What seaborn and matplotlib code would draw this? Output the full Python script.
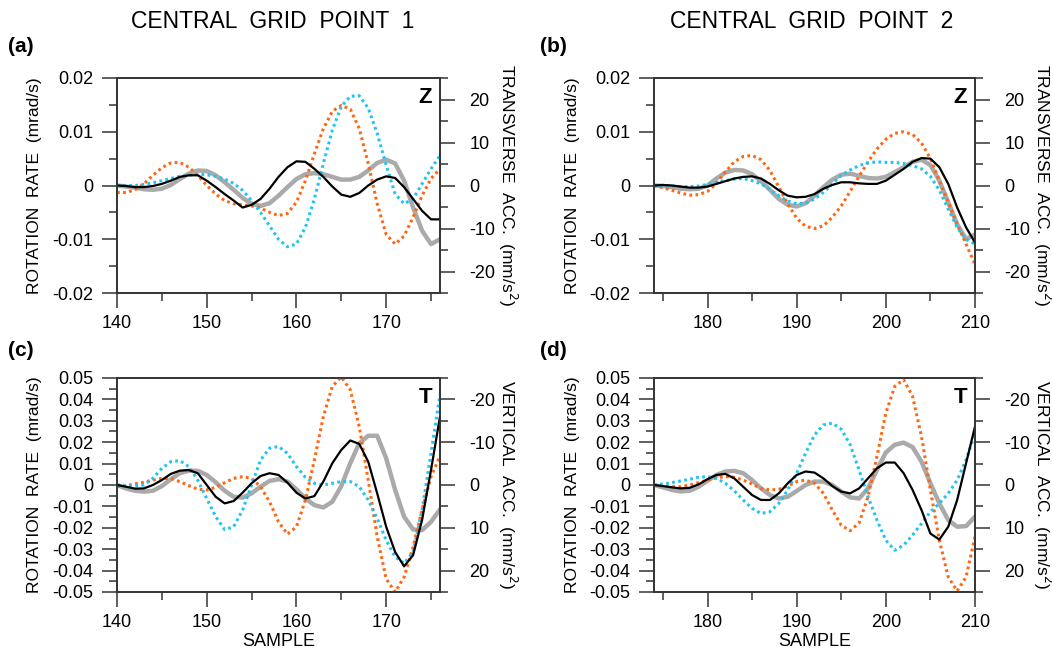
import matplotlib
matplotlib.use("Agg")
import matplotlib.pyplot as plt
import seaborn as sns
import pandas as pd
from matplotlib.ticker import FixedLocator, FixedFormatter, MultipleLocator

sns.set_theme(style="ticks")
plt.rcParams['font.family'] = ['Liberation Sans', 'DejaVu Sans']
plt.rcParams['axes.unicode_minus'] = False
plt.rcParams['text.color'] = 'black'
plt.rcParams['axes.labelcolor'] = 'black'
plt.rcParams['xtick.labelcolor'] = 'black'
plt.rcParams['ytick.labelcolor'] = 'black'

# ---------------- data (values in rotation-rate units, mrad/s; acceleration
# traces expressed on the left-axis scale) ----------------
samples_1 = list(range(140, 177))
samples_2 = list(range(174, 211))

# (a) central grid point 1, Z
a_black = [0, -0.0001, -0.0003, -0.0003, -0.0001, 0.0003, 0.0009, 0.0016, 0.0019, 0.0019,
           0.0009, -0.0003, -0.0016, -0.0028, -0.0041, -0.0036, -0.0025, -0.0006, 0.0016, 0.0034,
           0.0045, 0.0044, 0.0031, 0.0016, -0.0002, -0.0017, -0.0021, -0.0014, 0.0, 0.0011,
           0.0017, 0.0014, -0.0003, -0.0025, -0.0047, -0.0063, -0.0063]
a_gray = [0, -0.0002, -0.0004, -0.0007, -0.0008, -0.0006, 0.0001, 0.0012, 0.0022, 0.0028,
          0.0027, 0.0019, 0.0006, -0.0008, -0.0023, -0.0034, -0.0038, -0.0033, -0.0019, -0.0003,
          0.0012, 0.0021, 0.0023, 0.0021, 0.0016, 0.0011, 0.0011, 0.0016, 0.0028, 0.0042,
          0.0048, 0.0041, 0.0009, -0.0041, -0.0084, -0.0109, -0.0100]
a_orange = [-0.0013, -0.0013, -0.0008, 0.0003, 0.0019, 0.0033, 0.0042, 0.0043, 0.0034, 0.0019,
            0.0, -0.0016, -0.0028, -0.0034, -0.0036, -0.0038, -0.0042, -0.0050, -0.0056, -0.0052,
            -0.0031, 0.0009, 0.0059, 0.0106, 0.0138, 0.0149, 0.0142, 0.0106, 0.0041, -0.0034,
            -0.0091, -0.0109, -0.0094, -0.0059, -0.0019, 0.0013, 0.0031]
a_cyan = [0, 0, 0, 0.0002, 0.0005, 0.0009, 0.0013, 0.0017, 0.0019, 0.0021,
          0.0020, 0.0017, 0.0012, 0.0004, -0.0009, -0.0028, -0.0050, -0.0075, -0.0100, -0.0114,
          -0.0109, -0.0078, -0.0025, 0.0041, 0.0103, 0.0147, 0.0166, 0.0167, 0.0144, 0.0097,
          0.0038, -0.0016, -0.0034, -0.0025, 0.0003, 0.0031, 0.0056]

# (b) central grid point 2, Z
b_black = [0, 0.0001, 0, -0.0002, -0.0004, -0.0004, -0.0002, 0.0003, 0.0008, 0.0013,
           0.0016, 0.0017, 0.0013, 0.0003, -0.0009, -0.0019, -0.0022, -0.0021, -0.0016, -0.0006,
           0.0001, 0.0006, 0.0006, 0.0004, 0.0003, 0.0003, 0.0009, 0.0020, 0.0031, 0.0044,
           0.0051, 0.0050, 0.0034, 0.0003, -0.0041, -0.0078, -0.0106]
b_gray = [0, -0.0001, -0.0003, -0.0006, -0.0007, -0.0006, 0, 0.0013, 0.0024, 0.0029,
          0.0028, 0.0021, 0.0008, -0.0008, -0.0025, -0.0036, -0.0039, -0.0033, -0.0019, -0.0003,
          0.0011, 0.0020, 0.0022, 0.0018, 0.0014, 0.0013, 0.0016, 0.0025, 0.0034, 0.0044,
          0.0048, 0.0038, 0.0009, -0.0031, -0.0072, -0.0100, -0.0091]
b_orange = [0, -0.0004, -0.0009, -0.0014, -0.0018, -0.0017, -0.0011, 0.0004, 0.0025, 0.0044,
            0.0054, 0.0056, 0.0048, 0.0028, -0.0003, -0.0034, -0.0061, -0.0076, -0.0080, -0.0075,
            -0.0059, -0.0038, -0.0011, 0.0017, 0.0044, 0.0068, 0.0086, 0.0097, 0.0100, 0.0095,
            0.0079, 0.0050, 0.0009, -0.0031, -0.0072, -0.0109, -0.0147]
b_cyan = [0, -0.0001, -0.0001, -0.0002, -0.0002, -0.0001, 0.0002, 0.0006, 0.0009, 0.0012,
          0.0013, 0.0009, 0.0003, -0.0007, -0.0019, -0.0029, -0.0034, -0.0033, -0.0025, -0.0013,
          0.0003, 0.0019, 0.0029, 0.0037, 0.0042, 0.0044, 0.0043, 0.0043, 0.0041, 0.0037,
          0.0031, 0.0017, -0.0009, -0.0044, -0.0078, -0.0100, -0.0109]

# (c) central grid point 1, T
c_black = [0, -0.0008, -0.0017, -0.0016, 0, 0.0023, 0.0052, 0.0067, 0.0070, 0.0055,
           0, -0.0055, -0.0086, -0.0075, -0.0036, 0.0008, 0.0042, 0.0055, 0.0047, 0.0011,
           -0.0036, -0.0063, -0.0052, 0.0016, 0.0102, 0.0164, 0.0208, 0.0192, 0.0109, -0.0039,
           -0.0195, -0.0313, -0.0380, -0.0328, -0.0164, 0.0070, 0.0320]
c_gray = [0, -0.0016, -0.0027, -0.0031, -0.0027, -0.0005, 0.0027, 0.0055, 0.0067, 0.0066,
          0.0047, 0.0013, -0.0027, -0.0055, -0.0059, -0.0039, -0.0008, 0.0019, 0.0027, 0.0016,
          -0.0020, -0.0063, -0.0094, -0.0105, -0.0078, -0.0005, 0.0102, 0.0195, 0.0230, 0.0230,
          0.0125, -0.0023, -0.0148, -0.0208, -0.0211, -0.0172, -0.0114]
c_orange = [-0.0008, -0.0003, 0.0005, 0.0013, 0.0023, 0.0031, 0.0030, 0.0016, -0.0003, -0.0020,
            -0.0023, -0.0011, 0.0011, 0.0031, 0.0039, 0.0031, -0.0008, -0.0078, -0.0172, -0.0230,
            -0.0195, -0.0070, 0.0117, 0.0320, 0.0461, 0.0505, 0.0445, 0.0273, 0.0023, -0.0242,
            -0.0438, -0.0500, -0.0430, -0.0289, -0.0117, 0.0039, 0.0136]
c_cyan = [0, -0.0003, -0.0005, 0, 0.0031, 0.0078, 0.0109, 0.0114, 0.0086, 0.0023,
          -0.0063, -0.0148, -0.0208, -0.0195, -0.0117, 0, 0.0117, 0.0172, 0.0180, 0.0148,
          0.0086, 0.0036, 0.0008, 0, 0.0008, 0.0016, 0.0016, -0.0008, -0.0070, -0.0156,
          -0.0258, -0.0336, -0.0367, -0.0313, -0.0117, 0.0148, 0.0422]

# (d) central grid point 2, T
d_black = [0, -0.0005, -0.0011, -0.0016, -0.0013, 0.0003, 0.0027, 0.0047, 0.0052, 0.0031,
           -0.0008, -0.0047, -0.0070, -0.0070, -0.0039, 0.0008, 0.0047, 0.0063, 0.0058, 0.0031,
           -0.0005, -0.0031, -0.0039, -0.0016, 0.0031, 0.0078, 0.0105, 0.0105, 0.0055, -0.0023,
           -0.0117, -0.0227, -0.0255, -0.0195, -0.0070, 0.0102, 0.0273]
d_gray = [0, -0.0011, -0.0023, -0.0030, -0.0027, -0.0008, 0.0020, 0.0047, 0.0063, 0.0066,
          0.0055, 0.0023, -0.0016, -0.0047, -0.0063, -0.0055, -0.0028, 0, 0.0016, 0.0016,
          0, -0.0031, -0.0058, -0.0063, -0.0016, 0.0070, 0.0152, 0.0188, 0.0198, 0.0177,
          0.0109, 0.0008, -0.0086, -0.0164, -0.0195, -0.0192, -0.0148]
d_orange = [0, -0.0005, -0.0008, -0.0008, 0, 0.0011, 0.0023, 0.0034, 0.0039, 0.0036,
            0.0023, 0.0005, -0.0016, -0.0023, -0.0020, -0.0005, 0.0016, 0.0023, 0.0008, -0.0039,
            -0.0117, -0.0188, -0.0214, -0.0177, -0.0055, 0.0133, 0.0336, 0.0461, 0.0492, 0.0414,
            0.0227, -0.0023, -0.0258, -0.0430, -0.0495, -0.0430, -0.0242]
d_cyan = [0, 0.0005, 0.0011, 0.0019, 0.0027, 0.0036, 0.0039, 0.0031, 0.0008, -0.0027,
          -0.0070, -0.0109, -0.0133, -0.0125, -0.0086, -0.0023, 0.0055, 0.0148, 0.0234, 0.0281,
          0.0289, 0.0261, 0.0188, 0.0070, -0.0055, -0.0164, -0.0258, -0.0305, -0.0281, -0.0234,
          -0.0180, -0.0125, -0.0086, -0.0039, 0.0023, 0.0117, 0.0242]

col_titles = ["CENTRAL  GRID  POINT  1", "CENTRAL  GRID  POINT  2"]
panel_letters = ["(a)", "(b)", "(c)", "(d)"]
component = ["Z", "Z", "T", "T"]
left_label = "ROTATION  RATE  (mrad/s)"
right_labels = ["TRANSVERSE  ACC.  (mm/s$^2$)", "VERTICAL  ACC.  (mm/s$^2$)"]
xticks_1 = [140, 150, 160, 170]
xticks_2 = [180, 190, 200, 210]
yticks_z = [-0.02, -0.01, 0, 0.01, 0.02]
yticks_t = [-0.05, -0.04, -0.03, -0.02, -0.01, 0, 0.01, 0.02, 0.03, 0.04, 0.05]
acc_ticks = [-20, -10, 0, 10, 20]

SPINE = "#333333"
ORANGE = "#ff6611"
CYAN = "#1ec4f2"
GRAY = "#aaaaaa"

W, H = 1052, 653
fig = plt.figure(figsize=(W / 100, H / 100), dpi=100)

def box(l, r, t, b):
    return [l / W, 1 - b / H, (r - l) / W, (b - t) / H]

panels = [
    dict(pos=box(117, 440, 78, 293), x=samples_1, xlim=(140, 176), xt=xticks_1,
         data=(a_black, a_gray, a_orange, a_cyan), yl=0.02, yt=yticks_z, inv=False, rl=0),
    dict(pos=box(654, 975, 78, 293), x=samples_2, xlim=(174, 210), xt=xticks_2,
         data=(b_black, b_gray, b_orange, b_cyan), yl=0.02, yt=yticks_z, inv=False, rl=0),
    dict(pos=box(117, 440, 378, 592), x=samples_1, xlim=(140, 176), xt=xticks_1,
         data=(c_black, c_gray, c_orange, c_cyan), yl=0.05, yt=yticks_t, inv=True, rl=1),
    dict(pos=box(654, 975, 378, 592), x=samples_2, xlim=(174, 210), xt=xticks_2,
         data=(d_black, d_gray, d_orange, d_cyan), yl=0.05, yt=yticks_t, inv=True, rl=1),
]

def fmt(v):
    if abs(v) < 1e-12:
        return "0"
    return f"{v:.2f}"

tick_kw = dict(direction="out", color=SPINE, width=1.1)

for i, p in enumerate(panels):
    ax = fig.add_axes(p["pos"])
    black, gray, orange, cyan = p["data"]
    df = pd.DataFrame({"sample": p["x"], "black": black, "gray": gray,
                       "orange": orange, "cyan": cyan})
    sns.lineplot(data=df, x="sample", y="gray", ax=ax, color=GRAY, linewidth=3.2, zorder=2)
    sns.lineplot(data=df, x="sample", y="orange", ax=ax, color=ORANGE, linewidth=2.2,
                 linestyle=(0, (0.9, 1.1)), zorder=3)
    sns.lineplot(data=df, x="sample", y="cyan", ax=ax, color=CYAN, linewidth=2.2,
                 linestyle=(0, (0.9, 1.1)), zorder=3)
    sns.lineplot(data=df, x="sample", y="black", ax=ax, color="black", linewidth=1.6, zorder=4)

    ax.set_xlim(*p["xlim"])
    ax.set_ylim(-p["yl"], p["yl"])
    ax.xaxis.set_major_locator(FixedLocator(p["xt"]))
    ax.xaxis.set_minor_locator(MultipleLocator(5))
    ax.yaxis.set_major_locator(FixedLocator(p["yt"]))
    ax.yaxis.set_major_formatter(FixedFormatter([fmt(v) for v in p["yt"]]))
    ax.yaxis.set_minor_locator(MultipleLocator(0.005))
    ax.tick_params(axis="both", which="major", length=11, labelsize=13, pad=5, **tick_kw)
    ax.tick_params(axis="both", which="minor", length=6, **tick_kw)
    ax.tick_params(axis="y", which="major", pad=6)
    ax.tick_params(top=False, right=False, which="both")
    for s in ax.spines.values():
        s.set_color(SPINE)
        s.set_linewidth(1.2)
    ax.set_xlabel("SAMPLE" if i >= 2 else "", fontsize=13, labelpad=1)
    ax.set_ylabel(left_label, fontsize=12.5, va="center", ha="center")
    ax.yaxis.set_label_coords(-0.255, 0.5)

    ax2 = ax.twinx()
    if p["inv"]:
        ax2.set_ylim(25, -25)
    else:
        ax2.set_ylim(-25, 25)
    ax2.yaxis.set_major_locator(FixedLocator(acc_ticks))
    ax2.yaxis.set_major_formatter(FixedFormatter([str(v) for v in acc_ticks]))
    ax2.yaxis.set_minor_locator(MultipleLocator(5))
    ax2.tick_params(axis="y", which="major", length=11, labelsize=13, pad=10, **tick_kw)
    ax2.tick_params(axis="y", which="minor", length=6, **tick_kw)
    for s in ax2.spines.values():
        s.set_color(SPINE)
        s.set_linewidth(1.2)
    ax2.set_ylabel(right_labels[p["rl"]], fontsize=12.5, rotation=-90, va="center", ha="center")
    ax2.yaxis.set_label_coords(1.21, 0.5)

    ax.text(0.955, 0.91, component[i], transform=ax.transAxes, fontsize=16,
            fontweight="bold", ha="center", va="center", zorder=6)

# panel letters and column titles
letter_pos = [(8, 47), (540, 47), (8, 350), (540, 350)]
for (lx, ly), lab in zip(letter_pos, panel_letters):
    fig.text(lx / W, 1 - ly / H, lab, fontsize=15, fontweight="bold", ha="left", va="center")
fig.text(273 / W, 1 - 22 / H, col_titles[0], fontsize=16.5, ha="center", va="center")
fig.text(812 / W, 1 - 22 / H, col_titles[1], fontsize=16.5, ha="center", va="center")

fig.savefig("out.png", dpi=100)
